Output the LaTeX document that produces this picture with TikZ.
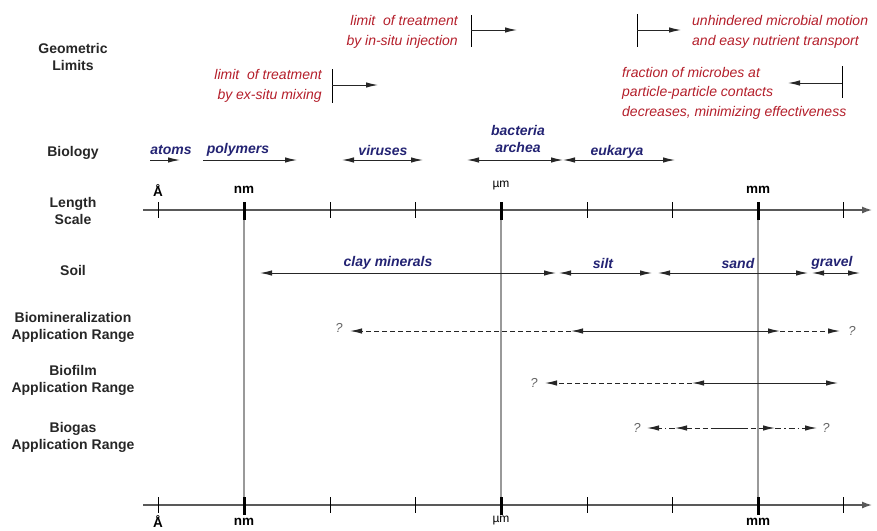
\documentclass[tikz,border=0pt]{standalone}
\usepackage{fontspec}
\setmainfont{Liberation Sans}
\usetikzlibrary{arrows.meta, positioning}
\definecolor{limitred}{RGB}{180,30,42}
\definecolor{sizeblue}{RGB}{35,35,115}

\begin{document}
\begin{tikzpicture}[
		x=1pt, y=-1pt,
		every node/.style={inner sep=0pt},
		rowlabel/.style={font=\fontsize{14}{17}\selectfont\bfseries, align=center, text=black!85},
		limittext/.style={font=\fontsize{14}{19.5}\selectfont\itshape, text=limitred},
		sizelabel/.style={font=\fontsize{14}{17}\selectfont\bfseries\itshape, text=sizeblue, align=center},
		unitlabel/.style={font=\fontsize{13.5}{15}\selectfont\bfseries},
		qmark/.style={font=\fontsize{13}{15}\selectfont\itshape, text=black!60},
		arr/.style={-{Latex[length=12pt,width=5.5pt]}, line width=1pt, draw=black!85},
		both/.style={{Latex[length=12pt,width=5.5pt]}-{Latex[length=12pt,width=5.5pt]}, line width=1pt, draw=black!85},
		dashedline/.style={dash pattern=on 5pt off 3pt},
		dotdashline/.style={dash pattern=on 6pt off 3pt on 1.5pt off 3pt},
		scaleaxis/.style={-{Latex[length=10pt,width=7pt]}, line width=1.4pt, draw=black!65},
		minortick/.style={line width=0.9pt, draw=black},
		majortick/.style={line width=3pt, draw=black},
		decade/.style={line width=2.5pt, draw=black!40}
	]
	
		\clip (0,0) rectangle (877,530);
	
		% Row labels
		\node[rowlabel] (geo) at (73,57) {Geometric\\Limits};
		\node[rowlabel] (bio) at (73,153) {Biology};
		\node[rowlabel] (len) at (73,211) {Length\\Scale};
		\node[rowlabel] (soil) at (73,270) {Soil};
		\node[rowlabel] (biomin) at (73,327) {Biomineralization\\Application Range};
		\node[rowlabel] (biofilm) at (73,380) {Biofilm\\Application Range};
		\node[rowlabel] (biogas) at (73,437) {Biogas\\Application Range};
		
		% Decade lines
		\draw[decade] (244,210) -- (244,507);
		\draw[decade] (501,210) -- (501,507);
		\draw[decade] (758,210) -- (758,507);
		
		% Length scale, top
		\draw[scaleaxis] (143,210) -- (872,210);
		\draw[minortick] (158,202) -- (158,218) (330,202) -- (330,218) (415,202) -- (415,218)
			(587,202) -- (587,218) (672,202) -- (672,218) (843,202) -- (843,218);
		\draw[majortick] (244,202) -- (244,220) (501,202) -- (501,220) (758,202) -- (758,220);
		\node[unitlabel] (angtop) at (158,191) {Å};
		\node[unitlabel] (nmtop) at (244,190) {nm};
		\node[font=\fontsize{12}{14}\selectfont] (umtop) at (501,186) {µm};
		\node[unitlabel] (mmtop) at (758,190) {mm};
		
		% Length scale, bottom
		\draw[scaleaxis] (143,505) -- (872,505);
		\draw[minortick] (158,497) -- (158,513) (330,497) -- (330,513) (415,497) -- (415,513)
			(587,497) -- (587,513) (672,497) -- (672,513) (843,497) -- (843,513);
		\draw[majortick] (244,497) -- (244,515) (501,497) -- (501,515) (758,497) -- (758,515);
		\node[unitlabel, anchor=north] (angbot) at (158,515) {Å};
		\node[unitlabel, anchor=north] (nmbot) at (244,518) {nm};
		\node[font=\fontsize{12}{14}\selectfont, anchor=north] (umbot) at (501,516) {µm};
		\node[unitlabel, anchor=north] (mmbot) at (758,518) {mm};
		
		% Geometric limits
		\node[limittext, align=right, anchor=east] (insitu) at (458,32) {limit\ \ of treatment\\by in-situ injection};
		\draw[line width=0.9pt] (471,15) -- (471,47);
		\draw[arr] (471,30) -- (517,30);
		\node[limittext, align=right, anchor=east] (exsitu) at (322,86) {limit\ \ of treatment\\by ex-situ mixing};
		\draw[line width=0.9pt] (332,69) -- (332,103);
		\draw[arr] (332,85) -- (378,85);
		\node[limittext, align=left, anchor=west] (motion) at (692,32) {unhindered microbial motion\\and easy nutrient transport};
		\draw[line width=0.9pt] (637,14) -- (637,47);
		\draw[arr] (637,30) -- (681,30);
		\node[limittext, align=left, anchor=west] (contacts) at (622,93) {fraction of microbes at\\particle-particle contacts\\decreases, minimizing effectiveness};
		\draw[line width=0.9pt] (842,66) -- (842,98);
		\draw[arr] (842,83) -- (788,83);
		
		% Biology
		\node[sizelabel] (atoms) at (171,150) {atoms};
		\draw[arr] (150,160) -- (180,160);
		\node[sizelabel] (polymers) at (238,150) {polymers};
		\draw[arr] (203,160) -- (297,160);
		\node[sizelabel] (viruses) at (383,150) {viruses};
		\draw[both] (342,160) -- (423,160);
		\node[sizelabel] (bacteria) at (518,139) {bacteria\\archea};
		\draw[both] (467,160) -- (563,160);
		\node[sizelabel] (eukarya) at (617,152) {eukarya};
		\draw[both] (563,160) -- (675,160);
		
		% Soil
		\node[sizelabel] (clay) at (388,263) {clay minerals};
		\draw[both] (260,273) -- (556,273);
		\node[sizelabel] (silt) at (603,263) {silt};
		\draw[both] (559,273) -- (652,273);
		\node[sizelabel] (sand) at (738,263) {sand};
		\draw[both] (658,273) -- (808,273);
		\node[sizelabel] (gravel) at (832,263) {gravel};
		\draw[both] (812,273) -- (860,273);
		
		% Biomineralization range
		\node[qmark] (biominlow) at (339,328) {?};
		\node[qmark] (biominhigh) at (852,331) {?};
		\draw[arr, dashedline] (571,331) -- (350,331);
		\draw[both] (571,331) -- (780,331);
		\draw[arr, dashedline] (780,331) -- (840,331);
		
		% Biofilm range
		\node[qmark] (biofilmlow) at (534,383) {?};
		\draw[arr, dashedline] (692,383) -- (545,383);
		\draw[both] (692,383) -- (838,383);
		
		% Biogas range
		\node[qmark] (biogaslow) at (637,428) {?};
		\node[qmark] (biogashigh) at (826,428) {?};
		\draw[arr, dotdashline] (675,428) -- (647,428);
		\draw[both, dashedline] (675,428) -- (775,428);
		\draw[line width=1pt, black!85] (713,428) -- (748,428);
		\draw[arr, dotdashline] (775,428) -- (817,428);
		
	\end{tikzpicture}
\end{document}
